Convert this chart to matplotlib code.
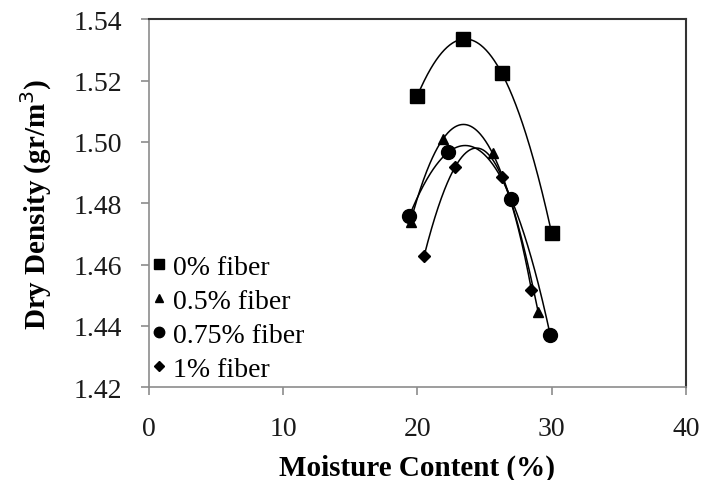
import numpy as np
import matplotlib
matplotlib.use("Agg")
from matplotlib import pyplot as plt

plt.rcParams['font.family'] = ['Liberation Serif', 'DejaVu Serif']

# compaction test results, moisture (%) vs dry density
labels = ["0% fiber", "0.5% fiber", "0.75% fiber", "1% fiber"]
markers = ["s", "^", "o", "D"]
msizes = [10, 7.5, 10, 6.5]

moist_0 = [20.0, 23.4, 26.3, 30.0]
dens_0 = [1.515, 1.5335, 1.5223, 1.4703]
moist_05 = [19.5, 21.9, 25.6, 29.0]
dens_05 = [1.474, 1.5009, 1.4963, 1.4445]
moist_075 = [19.4, 22.3, 27.0, 29.9]
dens_075 = [1.4758, 1.4966, 1.4813, 1.4370]
moist_1 = [20.5, 22.8, 26.3, 28.5]
dens_1 = [1.4627, 1.4917, 1.4885, 1.4517]

series = [(moist_0, dens_0), (moist_05, dens_05),
          (moist_075, dens_075), (moist_1, dens_1)]

fig = plt.figure(figsize=(7.02, 4.81), dpi=100)
ax = fig.add_axes([0.212, 0.193, 0.765, 0.765])

for (x, y), lab, m, ms in zip(series, labels, markers, msizes):
    # cubic trendline
    c = np.polyfit(x, y, 3)
    xs = np.linspace(min(x), max(x), 200)
    ax.plot(xs, np.polyval(c, xs), color='black', lw=1.1, zorder=2)
    ax.plot(x, y, linestyle='none', marker=m, ms=ms, color='black',
            label=lab, zorder=3)

ax.set_xlim(0, 40)
ax.set_ylim(1.42, 1.54)
ax.set_xticks([0, 10, 20, 30, 40])
ax.set_yticks(np.arange(1.42, 1.541, 0.02))
ax.set_yticklabels(["%.2f" % v for v in np.arange(1.42, 1.541, 0.02)])

for s in ['left', 'bottom']:
    ax.spines[s].set_color('#8c8c8c')
    ax.spines[s].set_linewidth(1.2)
for s in ['top', 'right']:
    ax.spines[s].set_color('#333333')
    ax.spines[s].set_linewidth(1.5)

ax.tick_params(direction='out', length=6, width=1.2, color='#8c8c8c',
               labelsize=20, labelcolor='#1a1a1a')
ax.tick_params(axis='x', pad=15)
ax.tick_params(axis='y', pad=13)

ax.set_xlabel("Moisture Content (%)", fontsize=21, fontweight='bold', labelpad=9)
ax.set_ylabel("Dry Density (gr/m$^3$)", fontsize=21, fontweight='bold', labelpad=14)

leg = ax.legend(loc='lower left', bbox_to_anchor=(-0.025, -0.03), frameon=False,
                fontsize=20, handlelength=0.5, handletextpad=0.25,
                labelspacing=0.3, markerscale=0.75, borderaxespad=0.2)

fig.savefig("out.png", dpi=100)
